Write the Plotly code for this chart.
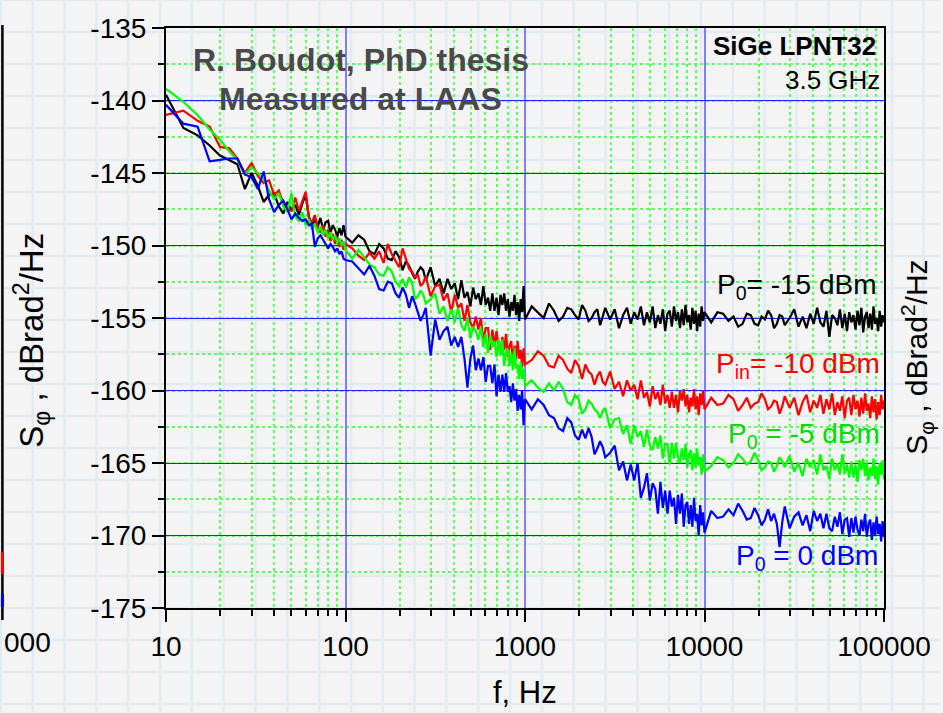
import plotly.graph_objects as go

# ---------------- data ----------------
freq_low = [10, 12.5, 15, 17.5, 20, 22.5, 25, 27.5, 30, 32.5, 35, 37.5, 40, 42.5, 45, 47.5, 50, 52.5,
            55, 57.5, 60, 62.5, 65, 67.5, 70, 72.5, 75, 77.5, 80, 82.5, 85, 87.5, 90, 92.5, 95, 97.5, 100]
freq_d2 = [109, 118, 127, 136, 145, 154, 163, 172, 181, 190, 199, 208, 217, 226, 235, 244, 253, 262,
           271, 280, 298, 316, 334, 352, 370, 388, 406, 424, 442, 460, 478, 496, 514, 532, 550, 568,
           586, 604, 622, 640, 658, 676, 694, 712, 730, 748, 766, 784, 802, 820, 838, 856, 874, 892,
           910, 928, 946, 964, 982, 1000]
freq_d3 = [1090, 1180, 1270, 1360, 1450, 1540, 1630, 1720, 1810, 1900, 1990, 2080, 2170, 2260, 2350,
           2440, 2530, 2620, 2710, 2800, 2980, 3160, 3340, 3520, 3700, 3880, 4060, 4240, 4420, 4600,
           4780, 4960, 5140, 5320, 5500, 5680, 5860, 6040, 6220, 6400, 6580, 6760, 6940, 7120, 7300,
           7480, 7660, 7840, 8020, 8200, 8380, 8560, 8740, 8920, 9100, 9280, 9460, 9640, 9820, 10000]
freq_d4 = [10900, 11800, 12700, 13600, 14500, 15400, 16300, 17200, 18100, 19000, 19900, 20800, 21700,
           22600, 23500, 24400, 25300, 26200, 27100, 28000, 29800, 31600, 33400, 35200, 37000, 38800,
           40600, 42400, 44200, 46000, 47800, 49600, 51400, 53200, 55000, 56800, 58600, 60400, 62200,
           64000, 65800, 67600, 69400, 71200, 73000, 74800, 76600, 78400, 80200, 82000, 83800, 85600,
           87400, 89200, 91000, 92800, 94600, 96400, 98200, 100000]
freq = freq_low + freq_d2 + freq_d3 + freq_d4

p_m15 = [  # P0 = -15 dBm (black)
    # 10 - 100 Hz
    -139.6, -141.9, -142.4, -143.1, -143.8, -144.1, -144.4, -146.1, -145.0, -145.9,
    -147.0, -146.5, -146.4, -147.3, -147.8, -147.0, -147.6, -147.2, -147.9, -147.1,
    -146.5, -148.0, -148.6, -148.2, -148.7, -148.1, -148.9, -148.4, -148.3, -149.1,
    -148.6, -148.9, -149.4, -148.8, -149.3, -148.6, -149.4,
    # 100 Hz - 1 kHz
    -149.8, -149.3, -149.6, -150.4, -150.6, -149.9, -150.2, -150.9, -151.0, -150.4,
    -150.8, -151.7, -151.1, -151.4, -151.9, -152.3, -151.8, -151.5, -151.7, -152.4,
    -151.5, -152.8, -152.3, -153.3, -152.3, -153.0, -152.6, -153.7, -152.4, -153.6,
    -153.2, -154.2, -152.9, -153.7, -153.3, -154.1, -152.8, -154.1, -153.6, -154.5,
    -153.3, -154.5, -153.6, -154.8, -153.4, -154.1, -153.3, -154.5, -153.7, -154.9,
    -153.9, -154.5, -153.4, -154.8, -153.9, -155.2, -153.7, -154.6, -152.8, -155.1,
    # 1 - 10 kHz
    -154.2, -154.6, -155.0, -154.0, -154.5, -155.2, -154.9, -154.3, -154.4, -154.8,
    -155.1, -154.1, -154.5, -155.2, -155.0, -154.6, -154.4, -155.5, -154.9, -154.3,
    -155.1, -154.4, -155.7, -154.8, -154.3, -155.4, -154.6, -155.1, -154.2, -155.5,
    -154.6, -155.3, -154.2, -155.7, -154.8, -155.4, -154.4, -155.9, -154.7, -154.5,
    -155.6, -154.2, -155.2, -154.6, -155.7, -154.4, -155.5, -154.1, -155.3, -154.8,
    -155.8, -154.3, -155.4, -154.5, -155.9, -154.7, -155.6, -154.2, -155.2, -154.6,
    # 10 - 100 kHz
    -155.3, -154.6, -154.7, -155.2, -154.9, -155.6, -155.4, -154.7, -154.8, -155.4,
    -155.5, -154.9, -155.1, -154.5, -154.8, -155.7, -155.4, -154.8, -154.9, -155.5,
    -155.0, -154.4, -155.6, -154.9, -155.7, -154.7, -155.4, -154.3, -155.3, -155.6,
    -154.5, -156.3, -154.8, -155.0, -155.5, -154.4, -155.7, -154.7, -155.9, -154.6,
    -155.3, -154.8, -155.8, -154.5, -155.5, -154.3, -156.0, -154.9, -154.6, -155.7,
    -154.7, -155.8, -154.2, -155.4, -155.0, -155.9, -154.5, -155.6, -154.8, -155.3,
]

p_m10 = [  # Pin = -10 dBm (red)
    -141.0, -140.7, -141.4, -141.8, -143.2, -143.3, -144.0, -145.0, -144.3, -145.2,
    -145.7, -145.5, -146.5, -146.2, -147.1, -147.5, -147.6, -146.7, -147.6, -147.0,
    -146.3, -148.1, -148.4, -147.9, -148.7, -149.1, -148.6, -149.4, -148.9, -149.7,
    -149.2, -149.9, -149.4, -150.1, -149.6, -150.3, -149.9,
    -150.2, -150.7, -151.0, -150.5, -150.9, -150.4, -151.2, -149.9, -150.6, -151.1,
    -151.5, -150.2, -150.9, -151.6, -151.8, -152.2, -152.0, -152.8, -152.6, -152.1,
    -153.5, -152.8, -152.7, -153.8, -153.3, -154.6, -153.4, -154.3, -154.0, -155.2,
    -154.1, -155.3, -155.7, -154.9, -155.8, -155.0, -156.6, -155.7, -155.7, -157.2,
    -155.8, -156.9, -155.9, -156.9, -157.4, -156.3, -157.2, -156.1, -157.7, -156.9,
    -156.6, -158.0, -156.9, -157.8, -156.6, -157.8, -157.2, -158.4, -157.1, -158.2,
    -157.9, -157.3, -157.6, -158.3, -158.4, -157.6, -157.9, -158.5, -158.8, -157.9,
    -158.3, -159.2, -158.2, -158.7, -158.9, -159.6, -159.0, -158.7, -159.4, -159.6,
    -158.7, -159.9, -159.4, -160.4, -159.3, -160.0, -159.6, -160.6, -159.3, -160.5,
    -160.1, -161.1, -159.7, -160.6, -160.1, -161.0, -159.6, -160.9, -160.3, -161.2,
    -160.1, -161.2, -160.3, -161.5, -160.0, -160.7, -159.9, -161.1, -160.3, -161.5,
    -160.5, -161.1, -159.9, -161.3, -160.4, -161.7, -160.2, -161.0, -160.0, -161.3,
    -160.5, -161.0, -160.9, -160.3, -160.6, -161.4, -161.0, -160.5, -161.2, -160.9,
    -160.8, -160.2, -160.6, -161.3, -161.1, -160.7, -160.8, -161.6, -161.1, -160.4,
    -161.2, -160.5, -161.7, -160.8, -160.3, -161.5, -160.7, -161.2, -160.3, -161.6,
    -160.6, -161.3, -160.2, -161.7, -160.8, -161.4, -160.4, -161.9, -160.7, -160.5,
    -161.7, -160.3, -161.3, -160.7, -161.8, -160.5, -161.6, -160.2, -161.4, -160.9,
    -161.9, -160.4, -161.5, -160.6, -162.0, -160.8, -161.7, -160.3, -161.3, -160.7,
]

p_m5 = [  # P0 = -5 dBm (green)
    -139.2, -140.1, -141.0, -142.0, -142.7, -143.5, -144.1, -145.1, -144.6, -145.0,
    -145.4, -146.2, -146.8, -146.4, -147.3, -147.7, -146.4, -148.0, -148.3, -147.7,
    -148.6, -148.2, -148.9, -148.5, -149.1, -148.7, -149.3, -148.9, -149.5, -149.1,
    -149.6, -149.3, -149.8, -149.5, -150.0, -149.7, -150.3,
    -150.9, -150.3, -150.8, -151.3, -151.5, -152.0, -152.1, -151.5, -151.8, -152.5,
    -152.8, -152.3, -152.9, -152.2, -152.6, -153.7, -153.5, -153.1, -153.4, -154.0,
    -153.7, -153.3, -154.7, -154.2, -155.2, -154.4, -155.3, -154.3, -155.5, -155.9,
    -155.0, -156.4, -155.6, -155.9, -156.5, -155.6, -157.0, -156.1, -157.4, -156.2,
    -157.0, -156.6, -157.7, -156.5, -157.6, -156.5, -158.3, -157.3, -157.1, -158.3,
    -157.4, -158.6, -157.1, -158.5, -158.2, -159.2, -158.0, -159.2, -158.5, -159.7,
    -159.3, -159.8, -160.1, -159.5, -160.0, -159.4, -159.9, -160.8, -161.0, -160.3,
    -160.6, -161.6, -161.3, -160.7, -160.9, -161.3, -161.5, -161.9, -161.4, -161.2,
    -162.6, -162.0, -161.9, -163.0, -162.4, -163.7, -162.4, -163.2, -162.8, -163.9,
    -162.7, -163.8, -164.1, -163.2, -164.0, -163.1, -164.7, -163.7, -163.7, -165.1,
    -163.6, -164.7, -163.6, -164.6, -165.0, -164.0, -164.8, -163.7, -165.3, -164.4,
    -164.1, -165.5, -164.3, -165.3, -164.0, -165.2, -164.6, -165.8, -164.4, -165.6,
    -165.2, -164.6, -164.8, -165.3, -165.0, -164.4, -164.7, -165.1, -164.9, -164.3,
    -164.8, -165.5, -165.3, -164.9, -165.0, -165.6, -165.2, -164.6, -164.9, -165.3,
    -164.5, -165.6, -165.0, -165.9, -164.7, -165.3, -164.8, -165.8, -164.4, -165.5,
    -165.2, -166.1, -164.7, -165.5, -165.0, -165.8, -164.4, -165.7, -165.1, -166.0,
    -164.9, -166.0, -165.1, -166.3, -164.8, -165.5, -164.7, -165.9, -165.0, -166.2,
    -165.3, -165.9, -164.7, -166.1, -165.2, -166.5, -165.0, -165.8, -164.8, -166.1,
]

p_0 = [  # P0 = 0 dBm (blue)
    -140.3, -141.6, -141.8, -144.2, -144.1, -144.0, -144.0, -145.1, -145.3, -146.1,
    -144.9, -146.8, -147.7, -147.2, -146.9, -147.5, -148.2, -147.8, -148.1, -148.3,
    -148.2, -148.6, -148.5, -150.1, -149.5, -149.3, -149.6, -149.9, -150.2, -149.9,
    -150.1, -150.4, -150.2, -150.6, -150.4, -150.9, -151.0,
    -151.1, -151.6, -152.0, -151.4, -152.1, -153.0, -153.1, -152.5, -152.6, -153.3,
    -153.6, -152.9, -153.4, -154.3, -153.5, -154.0, -154.6, -155.2, -154.8, -154.3,
    -157.6, -155.1, -156.5, -155.9, -155.6, -156.9, -156.3, -157.0, -156.3, -157.8,
    -159.8, -157.8, -156.9, -158.6, -157.8, -158.6, -157.7, -159.4, -158.3, -158.3,
    -159.5, -158.2, -160.4, -158.9, -160.1, -158.9, -160.1, -158.8, -160.1, -159.7,
    -160.8, -159.5, -160.7, -159.9, -161.4, -160.3, -161.3, -160.0, -162.4, -160.6,
    -161.3, -160.6, -161.0, -161.7, -161.9, -162.6, -162.8, -161.9, -162.2, -163.1,
    -163.4, -162.7, -163.3, -162.6, -163.2, -164.4, -164.0, -163.5, -163.9, -164.6,
    -164.3, -163.8, -165.5, -164.9, -166.2, -165.1, -166.2, -165.0, -167.4, -166.7,
    -165.7, -167.6, -166.4, -166.8, -168.5, -166.3, -168.1, -166.9, -168.5, -166.9,
    -168.0, -167.4, -169.2, -167.2, -168.5, -167.1, -169.4, -167.9, -167.7, -169.2,
    -167.9, -169.4, -167.4, -169.0, -168.5, -170.0, -167.9, -169.3, -168.4, -169.8,
    -168.3, -168.8, -168.7, -168.2, -168.6, -167.8, -168.3, -168.9, -168.8, -168.1,
    -168.6, -169.3, -168.9, -168.2, -169.0, -168.5, -169.2, -170.8, -169.1, -168.0,
    -169.5, -168.7, -168.4, -169.3, -168.6, -169.7, -168.3, -169.0, -168.5, -169.5,
    -168.5, -169.5, -169.7, -168.7, -169.4, -168.4, -169.9, -168.9, -168.8, -170.1,
    -168.8, -169.8, -168.7, -169.6, -170.0, -168.9, -169.7, -168.5, -170.1, -169.2,
    -168.9, -170.3, -169.1, -170.0, -168.7, -169.9, -169.2, -170.4, -169.0, -170.1,
]

y_ticks = [-175, -170, -165, -160, -155, -150, -145, -140, -135]
x_ticks = [10, 100, 1000, 10000, 100000]

series = [
    ("P0 = -15 dBm", p_m15, "#000000"),
    ("Pin = -10 dBm", p_m10, "#ff0000"),
    ("P0 = -5 dBm", p_m5, "#00ff00"),
    ("P0 = 0 dBm", p_0, "#0000ff"),
]
for _n, _v, _c in series:
    assert len(_v) == len(freq), (_n, len(_v), len(freq))

# ---------------- layout helpers (pixel -> paper) ----------------
W, H = 943, 713
L, R, T, B = 166, 888, 28, 608


def px(x):
    return (x - L) / (R - L)


def py(y):
    return (B - y) / (B - T)


FONT = "Liberation Sans, Arial, Helvetica, sans-serif"

fig = go.Figure()
for name, vals, col in series:
    fig.add_trace(go.Scatter(x=freq, y=vals, mode="lines", name=name,
                             line=dict(color=col, width=2.2), showlegend=False))

minor_x = [m * 10 ** e for e in range(1, 5) for m in range(2, 10)]

fig.update_xaxes(
    type="log", range=[1, 5],
    tickmode="array", tickvals=x_ticks, ticktext=[str(v) for v in x_ticks],
    showline=True, linecolor="black", linewidth=2, mirror=True,
    ticks="outside", ticklen=12, tickwidth=2, tickcolor="black",
    showgrid=True, gridcolor="rgba(90,90,255,0.75)", gridwidth=1.5,
    zeroline=False,
    tickfont=dict(family=FONT, size=28, color="black"),
    minor=dict(tickmode="array", tickvals=minor_x, ticks="outside", ticklen=6,
               tickwidth=2, tickcolor="black", showgrid=True,
               gridcolor="#5cff5c", griddash="dot", gridwidth=1.5),
)
fig.update_yaxes(
    range=[-175, -135],
    tickmode="array", tickvals=y_ticks, ticktext=[str(v) for v in y_ticks],
    showline=True, linecolor="black", linewidth=2, mirror=True,
    ticks="outside", ticklen=12, tickwidth=2, tickcolor="black",
    showgrid=True, gridcolor="#2222ff", gridwidth=1,
    zeroline=False,
    tickfont=dict(family=FONT, size=28, color="black"),
    minor=dict(tickmode="linear", tick0=-175, dtick=2.5, ticks="outside", ticklen=6,
               tickwidth=2, tickcolor="black", showgrid=True,
               gridcolor="#5cff5c", griddash="dot", gridwidth=1.5),
)

# graph-paper background
shapes = []
for gx in range(0, W + 1, 32):
    shapes.append(dict(type="line", xref="paper", yref="paper", x0=px(gx), x1=px(gx),
                       y0=py(H), y1=py(0), line=dict(color="#e1ecf2", width=2.5), layer="below"))
for gy in range(0, H + 1, 32):
    shapes.append(dict(type="line", xref="paper", yref="paper", x0=px(0), x1=px(W),
                       y0=py(gy), y1=py(gy), line=dict(color="#e1ecf2", width=2.5), layer="below"))
# fragment of the neighbouring chart on the left
shapes.append(dict(type="line", xref="paper", yref="paper", x0=px(1.5), x1=px(1.5),
                   y0=py(620), y1=py(25), line=dict(color="black", width=2.5)))
shapes.append(dict(type="rect", xref="paper", yref="paper", x0=px(0), x1=px(3),
                   y0=py(574), y1=py(552), line=dict(width=0), fillcolor="#ff0000"))
shapes.append(dict(type="rect", xref="paper", yref="paper", x0=px(0), x1=px(3),
                   y0=py(607), y1=py(594), line=dict(width=0), fillcolor="#0000ff"))

ann = []


def add(text, x, y, size, color="black", xanchor="center", bold=False, angle=0):
    if bold:
        text = "<b>" + text + "</b>"
    ann.append(dict(text=text, xref="paper", yref="paper", x=px(x), y=py(y), xanchor=xanchor,
                    yanchor="middle", showarrow=False, textangle=angle,
                    font=dict(family=FONT, size=size, color=color)))


add("R. Boudot, PhD thesis", 362, 60, 32, "#4a4a4a", bold=True)
add("Measured at LAAS", 362, 99, 32, "#4a4a4a", bold=True)
add("SiGe LPNT32", 882, 46, 26, bold=True, xanchor="right")
add("3.5 GHz", 886, 80, 26, xanchor="right")
add("P<sub>0</sub>= -15 dBm", 883, 287, 28, "#000000", xanchor="right")
add("P<sub>in</sub>= -10 dBm", 886, 365, 28, "#ff0000", xanchor="right")
add("P<sub>0</sub> = -5 dBm", 886, 435, 28, "#00dd00", xanchor="right")
add("P<sub>0</sub> = 0 dBm", 884, 557, 28, "#0000ff", xanchor="right")
add("f, Hz", 527, 692, 31)
add("S<sub>φ</sub> , dBrad<sup>2</sup>/Hz", 30, 340, 33, angle=-90)
add("S<sub>φ</sub> , dBrad<sup>2</sup>/Hz", 921, 357, 30, angle=-90)
add("000", 52, 642, 28, xanchor="right")

fig.update_layout(
    width=W, height=H,
    margin=dict(l=L, r=W - R, t=T, b=H - B),
    paper_bgcolor="#f4f4f4", plot_bgcolor="rgba(0,0,0,0)",
    font=dict(family=FONT, size=28, color="black"),
    shapes=shapes, annotations=ann, showlegend=False,
)

fig.write_html("out.html")
